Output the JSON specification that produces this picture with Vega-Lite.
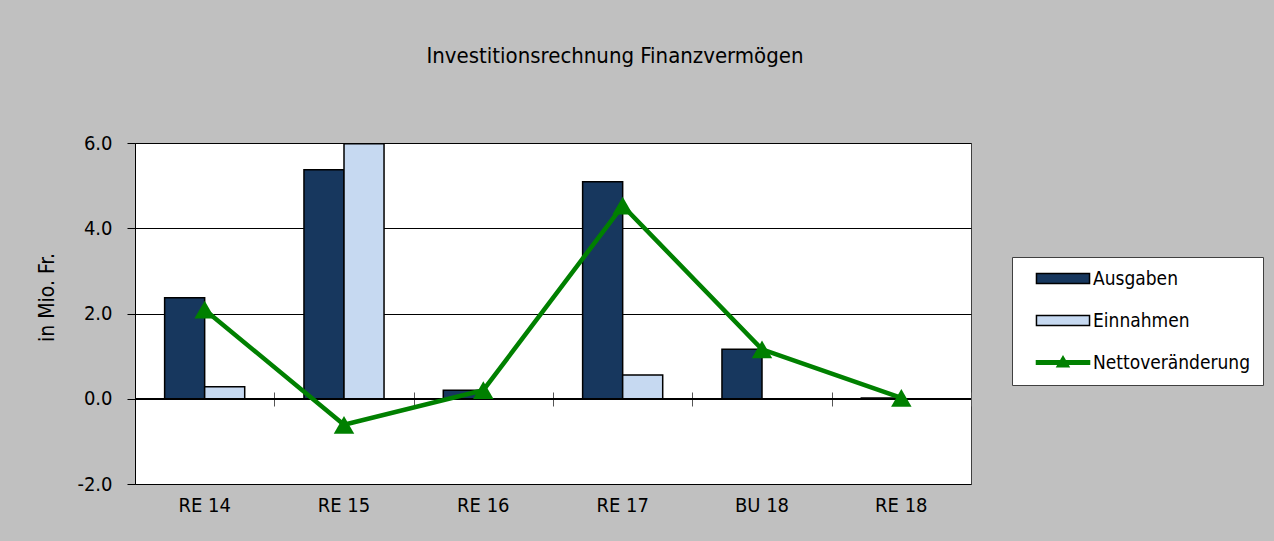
{
  "$schema": "https://vega.github.io/schema/vega-lite/v6.json",
  "width": 836,
  "height": 341,
  "autosize": {"type": "none"},
  "padding": {"left": 135, "top": 143, "right": 303, "bottom": 57},
  "background": "#c0c0c0",
  "view": {"fill": "white", "stroke": "#404040", "strokeWidth": 1},
  "title": {
    "text": "Investitionsrechnung Finanzvermögen",
    "anchor": "middle",
    "dx": 62,
    "offset": 48,
    "baseline": "alphabetic",
    "font": "DejaVu Sans Condensed",
    "fontSize": 22,
    "fontWeight": "normal",
    "color": "black"
  },
  "config": {"font": "DejaVu Sans Condensed"},
  "data": {
    "values": [
      {"cat": "RE 14", "series": "Ausgaben", "value": 2.37},
      {"cat": "RE 14", "series": "Einnahmen", "value": 0.28},
      {"cat": "RE 14", "series": "Nettoveränderung", "value": 2.09},
      {"cat": "RE 15", "series": "Ausgaben", "value": 5.37},
      {"cat": "RE 15", "series": "Einnahmen", "value": 5.98},
      {"cat": "RE 15", "series": "Nettoveränderung", "value": -0.61},
      {"cat": "RE 16", "series": "Ausgaben", "value": 0.2},
      {"cat": "RE 16", "series": "Nettoveränderung", "value": 0.2},
      {"cat": "RE 17", "series": "Ausgaben", "value": 5.09},
      {"cat": "RE 17", "series": "Einnahmen", "value": 0.56},
      {"cat": "RE 17", "series": "Nettoveränderung", "value": 4.53},
      {"cat": "BU 18", "series": "Ausgaben", "value": 1.16},
      {"cat": "BU 18", "series": "Nettoveränderung", "value": 1.16},
      {"cat": "RE 18", "series": "Ausgaben", "value": 0.02},
      {"cat": "RE 18", "series": "Nettoveränderung", "value": 0.02}
    ]
  },
  "layer": [
    {
      "transform": [{"filter": "datum.series !== 'Nettoveränderung'"}],
      "mark": {"type": "bar", "stroke": "black", "strokeWidth": 1.5},
      "encoding": {
        "x": {
          "field": "cat", "type": "nominal",
          "sort": ["RE 14", "RE 15", "RE 16", "RE 17", "BU 18", "RE 18"],
          "scale": {"paddingInner": 0, "paddingOuter": 0},
          "axis": {"title": null, "labelAngle": 0, "labelFontSize": 20, "labelColor": "black", "labelPadding": 11, "ticks": false, "domain": false, "grid": false}
        },
        "xOffset": {
          "field": "series", "type": "nominal",
          "scale": {"domain": ["Ausgaben", "Einnahmen"], "paddingInner": 0, "paddingOuter": 0.74}
        },
        "y": {
          "field": "value", "type": "quantitative",
          "scale": {"domain": [-2, 6], "nice": false, "zero": false},
          "axis": {
            "title": "in Mio. Fr.", "values": [-2, 0, 2, 4, 6],
            "labelExpr": "replace(format(datum.value, '.1f'), '\u2212', '-')",
            "grid": true, "gridColor": "black", "gridOpacity": 1, "gridWidth": 1,
            "domainColor": "black", "tickColor": "black", "tickSize": 8,
            "labelFontSize": 20, "labelColor": "black", "labelPadding": 15,
            "titleFontSize": 21, "titleFontWeight": "normal", "titleColor": "black",
            "titleX": -88, "titleY": 154, "titleAngle": 270, "titleAlign": "center", "titleBaseline": "middle"
          }
        },
        "color": {
          "field": "series", "type": "nominal",
          "scale": {"domain": ["Ausgaben", "Einnahmen", "Nettoveränderung"], "range": ["#17375e", "#c6d9f1", "#008000"]},
          "legend": null
        }
      }
    },
    {
      "mark": {"type": "rule", "color": "black", "strokeWidth": 1.5},
      "encoding": {"y": {"datum": 0, "type": "quantitative"}}
    },
    {
      "transform": [{"filter": "datum.series === 'Nettoveränderung'"}],
      "mark": {"type": "line", "color": "#008000", "strokeWidth": 4.5},
      "encoding": {
        "x": {
          "field": "cat", "type": "nominal",
          "sort": ["RE 14", "RE 15", "RE 16", "RE 17", "BU 18", "RE 18"],
          "axis": {"orient": "bottom", "offset": -92, "labels": false, "domain": false, "grid": false, "ticks": true, "tickSize": 14, "tickColor": "#555555", "tickBand": "extent", "title": null}
        },
        "y": {"field": "value", "type": "quantitative"}
      }
    },
    {
      "transform": [{"filter": "datum.series === 'Nettoveränderung'"}],
      "mark": {"type": "point", "shape": "triangle-up", "filled": true, "size": 420, "color": "#008000", "opacity": 1},
      "encoding": {
        "x": {
          "field": "cat", "type": "nominal",
          "sort": ["RE 14", "RE 15", "RE 16", "RE 17", "BU 18", "RE 18"],
          "axis": null
        },
        "y": {"field": "value", "type": "quantitative"}
      }
    },
    {
      "transform": [{"filter": "datum.series === 'keine'"}],
      "mark": {"type": "point", "filled": true, "strokeWidth": 1.5, "opacity": 1},
      "encoding": {
        "color": {
          "field": "series", "type": "nominal",
          "scale": {"domain": ["Ausgaben", "Einnahmen", "Nettoveränderung"], "range": ["#17375e", "#c6d9f1", "#008000"]},
          "legend": {
            "orient": "none", "legendX": 877, "legendY": 114, "title": null,
            "fillColor": "white", "strokeColor": "#404040", "padding": 12,
            "symbolSize": 196, "symbolOffset": 29.5, "symbolStrokeWidth": 1.5, "symbolOpacity": 1,
            "labelOffset": 20.5, "labelFontSize": 19, "labelColor": "black", "rowPadding": 22
          }
        },
        "shape": {
          "field": "series", "type": "nominal",
          "scale": {
            "domain": ["Ausgaben", "Einnahmen", "Nettoveränderung"],
            "range": ["M-3.79,-0.71H3.79V0.71H-3.79Z", "M-3.79,-0.71H3.79V0.71H-3.79Z", "M-3.79,-0.25H3.79V0.25H-3.79Z M-0.85,0.6L0,-0.85L0.85,0.6Z"]
          },
          "legend": {
            "orient": "none", "legendX": 877, "legendY": 114, "title": null,
            "fillColor": "white", "strokeColor": "#404040", "padding": 12,
            "symbolSize": 196, "symbolOffset": 29.5, "symbolStrokeWidth": 1.5, "symbolOpacity": 1,
            "labelOffset": 20.5, "labelFontSize": 19, "labelColor": "black", "rowPadding": 22
          }
        },
        "stroke": {
          "field": "series", "type": "nominal",
          "scale": {"domain": ["Ausgaben", "Einnahmen", "Nettoveränderung"], "range": ["#000000", "#000000", "#008000"]},
          "legend": {
            "orient": "none", "legendX": 877, "legendY": 114, "title": null,
            "fillColor": "white", "strokeColor": "#404040", "padding": 12,
            "symbolSize": 196, "symbolOffset": 29.5, "symbolStrokeWidth": 1.5, "symbolOpacity": 1,
            "labelOffset": 20.5, "labelFontSize": 19, "labelColor": "black", "rowPadding": 22
          }
        }
      }
    }
  ],
  "resolve": {"axis": {"x": "independent"}, "legend": {"color": "independent", "shape": "independent", "stroke": "independent"}}
}
